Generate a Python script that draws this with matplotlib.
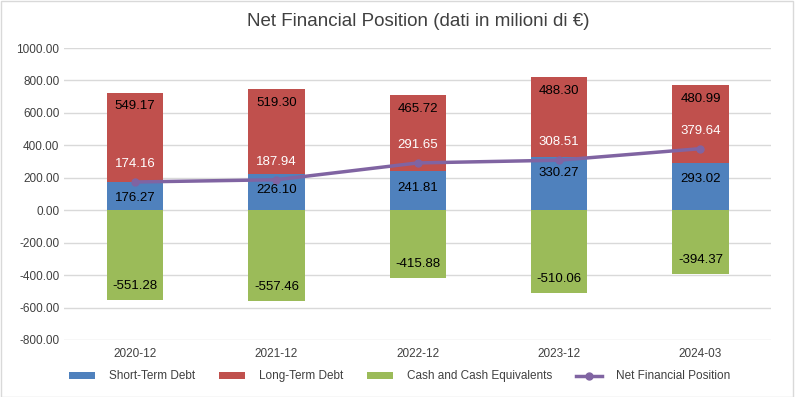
import numpy as np
from matplotlib import pyplot as plt
from matplotlib.patches import Rectangle

plt.rcParams['font.family'] = ['Liberation Sans', 'DejaVu Sans']

periods = ['2020-12', '2021-12', '2022-12', '2023-12', '2024-03']
short_debt = [176.27, 226.10, 241.81, 330.27, 293.02]
long_debt = [549.17, 519.30, 465.72, 488.30, 480.99]
cash = [-551.28, -557.46, -415.88, -510.06, -394.37]
nfp = [174.16, 187.94, 291.65, 308.51, 379.64]

c_blue = '#4F81BD'
c_red = '#C0504D'
c_green = '#9BBB59'
c_purple = '#8064A2'

fig = plt.figure(figsize=(7.95, 3.97), dpi=100)
ax = fig.add_axes([0.081, 0.1436, 0.889, 0.7354])

x = np.arange(len(periods))
w = 0.4
short_debt = np.array(short_debt)
long_debt = np.array(long_debt)
cash = np.array(cash)

b1 = ax.bar(x, short_debt, w, color=c_blue, label='Short-Term Debt', zorder=2)
b2 = ax.bar(x, long_debt, w, bottom=short_debt, color=c_red, label='Long-Term Debt', zorder=2)
b3 = ax.bar(x, cash, w, color=c_green, label='Cash and Cash Equivalents', zorder=2)
l1, = ax.plot(x, nfp, color=c_purple, lw=2.5, marker='o', ms=5, label='Net Financial Position', zorder=3)

# labels, inside end
fs = 9.5
for i in range(len(x)):
    ax.annotate('%.2f' % short_debt[i], (x[i], short_debt[i]), xytext=(0, -12),
                textcoords='offset points', ha='center', va='center', fontsize=fs, zorder=4)
    ax.annotate('%.2f' % long_debt[i], (x[i], short_debt[i] + long_debt[i]), xytext=(0, -10),
                textcoords='offset points', ha='center', va='center', fontsize=fs, zorder=4)
    ax.annotate('%.2f' % cash[i], (x[i], cash[i]), xytext=(0, 10),
                textcoords='offset points', ha='center', va='center', fontsize=fs, zorder=4)
    ax.annotate('%.2f' % nfp[i], (x[i], nfp[i]), xytext=(0, 13),
                textcoords='offset points', ha='center', va='center', fontsize=fs,
                color='white', zorder=4)

ax.set_xlim(-0.5, len(x) - 0.5)
ax.set_ylim(-800, 1000)
ax.set_yticks(np.arange(-800, 1001, 200))
ax.set_yticklabels(['%.2f' % v for v in np.arange(-800, 1001, 200)])
ax.set_xticks(x)
ax.set_xticklabels(periods)
ax.tick_params(length=0, labelsize=8.5, colors='#404040')
ax.tick_params(axis='x', pad=6)
ax.grid(axis='y', color='#D9D9D9', lw=1, zorder=0)
for s in ax.spines.values():
    s.set_visible(False)

ax.set_title('Net Financial Position (dati in milioni di €)', fontsize=13.5, color='#404040', pad=16)

ax.legend([b1, b2, b3, l1], [h.get_label() for h in [b1, b2, b3, l1]],
          loc='center', bbox_to_anchor=(0.4745, -0.125), ncol=4, frameon=False,
          fontsize=8.5, handlelength=2.2, handleheight=0.5, columnspacing=2.0,
          handletextpad=1.2, labelcolor='#404040')

fig.add_artist(Rectangle((0.001, 0.001), 0.997, 0.997, transform=fig.transFigure,
                         fill=False, edgecolor='#D9D9D9', lw=1))

fig.savefig('out.png', dpi=100)
